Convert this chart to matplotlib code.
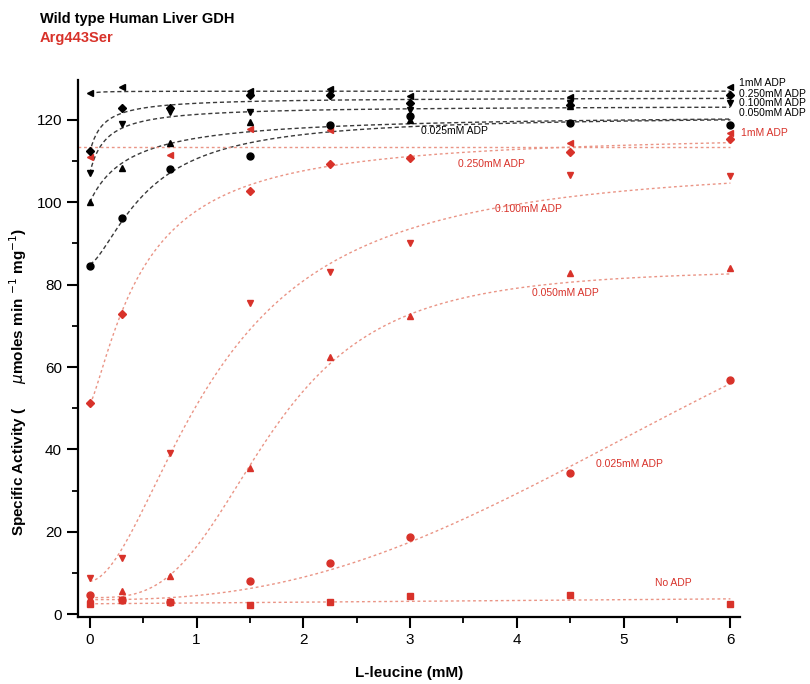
import numpy as np
import matplotlib
matplotlib.use("Agg")
import matplotlib.pyplot as plt

plt.rcParams['font.family'] = ['Liberation Sans', 'DejaVu Sans']

# ---- data ----
leucine = [0, 0.3, 0.75, 1.5, 2.25, 3, 4.5, 6]
nan = np.nan

wt_labels = ["1mM ADP", "0.250mM ADP", "0.100mM ADP", "0.050mM ADP", "0.025mM ADP"]
wt_markers = ["<", "D", "v", "^", "o"]
wt_1mM = [126.5, 128.0, nan, 127.0, 127.5, 125.8, 125.6, 128.0]
wt_250 = [112.5, 123.0, 123.0, 126.0, 126.0, 124.2, 123.6, 126.0]
wt_100 = [107.0, 119.0, 122.0, 122.0, nan, 122.5, 124.0, 124.0]
wt_050 = [100.0, 108.3, 114.4, 119.5, 126.5, 120.0, 123.5, nan]
wt_025 = [84.5, 96.2, 108.0, 111.3, 118.8, 121.0, 119.3, 118.8]

mut_labels = ["1mM ADP", "0.250mM ADP", "0.100mM ADP", "0.050mM ADP", "0.025mM ADP", "No ADP"]
mut_markers = ["<", "D", "v", "^", "o", "s"]
mut_1mM = [111.0, nan, 111.5, 117.8, 117.6, nan, 114.4, 116.8]
mut_250 = [51.2, 72.8, nan, 102.8, 109.2, 110.8, 112.2, 115.3]
mut_100 = [8.7, 13.6, 39.2, 75.5, 83.0, 90.0, 106.6, 106.3]
mut_050 = [4.0, 5.5, 9.2, 35.5, 62.4, 72.5, 82.8, 84.0]
mut_025 = [4.6, 3.3, 3.0, 8.0, 12.5, 18.8, 34.3, 56.8]
mut_none = [2.4, 3.4, 3.0, 2.3, 3.0, 4.3, 4.6, 2.5]

# fitted Hill curves (v0, vmax, K, n)
wt_fits = [(126.3, 127.0, 0.05, 1.0), (112.0, 125.5, 0.12, 1.0), (107.0, 123.5, 0.15, 1.0),
           (100.0, 121.5, 0.38, 1.0), (85.0, 121.0, 0.55, 1.5)]
mut_fits = [None, (51.0, 117.0, 0.5, 1.3), (8.0, 110.0, 1.2, 1.8),
            (4.0, 84.0, 1.7, 3.2), (3.5, 131.8, 6.95, 2.5)]
mut_1mM_level = 113.5
none_line = (2.5, 0.2)  # intercept, slope

x_ticks = [0, 1, 2, 3, 4, 5, 6]
y_ticks = [0, 20, 40, 60, 80, 100, 120]


def hill(x, v0, vmax, K, n):
    return v0 + (vmax - v0) * x**n / (K**n + x**n)


RED = "#d8322a"
RED_LINE = "#ea9485"
BLK_LINE = "#3a3a3a"

fig = plt.figure(figsize=(8.1, 6.84), dpi=100)
ax = fig.add_axes([0.0963, 0.098, 0.8173, 0.785])

xs = np.linspace(0, 6, 300)

wt_series = [wt_1mM, wt_250, wt_100, wt_050, wt_025]
for vals, mk, fit in zip(wt_series, wt_markers, wt_fits):
    ax.plot(xs, hill(xs, *fit), color=BLK_LINE, lw=1.0, dashes=(3, 2))
    ax.plot(leucine, vals, linestyle="none", marker=mk, color="black",
            markersize=5.0 if mk != "D" else 4.2, zorder=5)

mut_series = [mut_1mM, mut_250, mut_100, mut_050, mut_025, mut_none]
ax.plot([-0.11, 6.0], [mut_1mM_level, mut_1mM_level], color=RED_LINE, lw=1.0, dashes=(2, 2))
for fit in mut_fits[1:]:
    ax.plot(xs, hill(xs, *fit), color=RED_LINE, lw=1.0, dashes=(2, 2))
ax.plot(xs, none_line[0] + none_line[1] * xs, color=RED_LINE, lw=1.0, dashes=(2, 2))
for vals, mk in zip(mut_series, mut_markers):
    ax.plot(leucine, vals, linestyle="none", marker=mk, color=RED,
            markersize=5.0 if mk != "D" else 4.2, zorder=4)

# curve labels
lfs = 7.5
ax.text(6.08, 129.0, "1mM ADP", fontsize=lfs, color="black", va="center")
ax.text(6.08, 126.2, "0.250mM ADP", fontsize=lfs, color="black", va="center")
ax.text(6.08, 124.0, "0.100mM ADP", fontsize=lfs, color="black", va="center")
ax.text(6.08, 121.7, "0.050mM ADP", fontsize=lfs, color="black", va="center")
ax.text(3.10, 117.2, "0.025mM ADP", fontsize=lfs, color="black", va="center")
ax.text(6.10, 116.8, "1mM ADP", fontsize=lfs, color=RED, va="center")
ax.text(3.45, 109.3, "0.250mM ADP", fontsize=lfs, color=RED, va="center")
ax.text(3.80, 98.4, "0.100mM ADP", fontsize=lfs, color=RED, va="center")
ax.text(4.14, 78.0, "0.050mM ADP", fontsize=lfs, color=RED, va="center")
ax.text(4.74, 36.4, "0.025mM ADP", fontsize=lfs, color=RED, va="center")
ax.text(5.29, 7.5, "No ADP", fontsize=lfs, color=RED, va="center")

ax.set_xlim(-0.11, 6.09)
ax.set_ylim(-0.7, 129.7)
ax.set_xticks(x_ticks)
ax.set_yticks(y_ticks)
ax.set_xticks(np.arange(0.5, 6, 1.0), minor=True)
ax.set_yticks(np.arange(10, 130, 20), minor=True)
ax.tick_params(which="major", direction="out", length=8, width=1.5, labelsize=11)
ax.tick_params(which="minor", direction="out", length=4, width=1.3)
for s in ["top", "right"]:
    ax.spines[s].set_visible(False)
for s in ["left", "bottom"]:
    ax.spines[s].set_linewidth(1.6)

ax.set_xlabel("L-leucine (mM)", fontsize=11, fontweight="bold")
ax.xaxis.set_label_coords(0.50, -0.092)
ax.set_ylabel(r"Specific Activity (      $\mu$moles min $^{-1}$ mg$^{-1}$)",
              fontsize=11, fontweight="bold")
ax.yaxis.set_label_coords(-0.074, 0.438)

fig.text(0.049, 0.972, "Wild type Human Liver GDH", fontsize=10.5, fontweight="bold",
         color="black", va="center")
fig.text(0.049, 0.944, "Arg443Ser", fontsize=10.5, fontweight="bold",
         color=RED, va="center")

fig.savefig("out.png", dpi=100)
